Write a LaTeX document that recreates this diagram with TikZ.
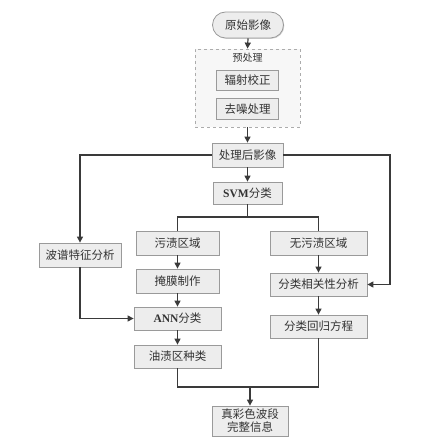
\documentclass[tikz,border=0pt]{standalone}
\usepackage{fontspec}
\setmainfont{Liberation Serif}
\newfontfamily\cjk{Noto Sans CJK SC}
\usetikzlibrary{arrows.meta,shapes.misc,shadows}
\definecolor{linec}{HTML}{3A3A3A}
\definecolor{boxfill}{HTML}{EDEDED}
\definecolor{boxdraw}{HTML}{9A9A9A}
\definecolor{txtc}{HTML}{333333}
\tikzset{
  box/.style={draw=boxdraw, fill=boxfill, line width=0.8pt, inner sep=0pt,
    text=txtc, font=\cjk\fontsize{11.5}{13.5}\selectfont, align=center,
    drop shadow={shadow xshift=0.8pt, shadow yshift=-0.8pt, fill=gray!50, opacity=0.7}},
  rbox/.style={box, rounded rectangle},
  prebox/.style={draw=gray!65, dashed, line width=0.8pt, fill=gray!6, inner sep=0pt},
  arr/.style={draw=linec, line width=1.2pt, -{Triangle[length=6pt,width=6pt]}},
  ln/.style={draw=linec, line width=1.2pt},
}
\begin{document}
\begin{tikzpicture}[x=1pt,y=-1pt]
\useasboundingbox (0,0) rectangle (434,446);
% top
\node[rbox, minimum width=71pt, minimum height=26pt] (orig) at (248,25) {原始影像};
\node[prebox, minimum width=105pt, minimum height=78pt] (pre) at (247.5,88) {};
\node[text=txtc, font=\cjk\fontsize{10}{12}\selectfont] (prelab) at (247.5,58) {预处理};
\node[box, minimum width=62pt, minimum height=20pt] (fs) at (247.5,80) {辐射校正};
\node[box, minimum width=62pt, minimum height=21pt] (qz) at (247.5,109) {去噪处理};
\node[box, minimum width=71pt, minimum height=24pt] (proc) at (247.5,155) {处理后影像};
\node[box, minimum width=69pt, minimum height=22pt] (svm) at (247.5,193) {{\rmfamily\bfseries SVM}分类};
% middle
\node[box, minimum width=83pt, minimum height=24pt] (wz) at (177.5,243) {污渍区域};
\node[box, minimum width=97pt, minimum height=24pt] (wwz) at (318.5,243) {无污渍区域};
\node[box, minimum width=82pt, minimum height=24pt] (bp) at (80,255) {波谱特征分析};
\node[box, minimum width=83pt, minimum height=24pt] (ym) at (177.5,281) {掩膜制作};
\node[box, minimum width=97pt, minimum height=23pt] (fl) at (318.5,284.5) {分类相关性分析};
\node[box, minimum width=87pt, minimum height=23pt] (ann) at (177.5,318.5) {{\rmfamily\bfseries ANN}分类};
\node[box, minimum width=97pt, minimum height=23pt] (hg) at (318.5,326.5) {分类回归方程};
\node[box, minimum width=87pt, minimum height=23pt] (yz) at (177.5,356.5) {油渍区种类};
\node[box, minimum width=76pt, minimum height=30pt, font=\cjk\fontsize{11.5}{13}\selectfont] (zs) at (250,421) {真彩色波段\\完整信息};
% coordinates
\coordinate (rc) at (390,155);
\coordinate (br) at (247.5,217);
\coordinate (mg) at (250,387);
% connectors
\draw[arr] (orig.south) -- (pre.north);
\draw[arr] (pre.south) -- (proc.north);
\draw[arr] (proc.south) -- (svm.north);
\draw[arr] (proc.west) -| (bp.north);
\draw[arr] (proc.east) -- (rc) |- (fl.east);
\draw[ln] (svm.south) -- (br);
\draw[ln] (br) -| (wz.north);
\draw[ln] (br) -| (wwz.north);
\draw[arr] (wz.south) -- (ym.north);
\draw[arr] (ym.south) -- (ann.north);
\draw[arr] (ann.south) -- (yz.north);
\draw[arr] (bp.south) |- (ann.west);
\draw[arr] (wwz.south) -- (fl.north);
\draw[arr] (fl.south) -- (hg.north);
\draw[ln] (yz.south) |- (mg);
\draw[ln] (mg) -| (hg.south);
\draw[arr] (mg) -- (zs.north);
\end{tikzpicture}
\end{document}
